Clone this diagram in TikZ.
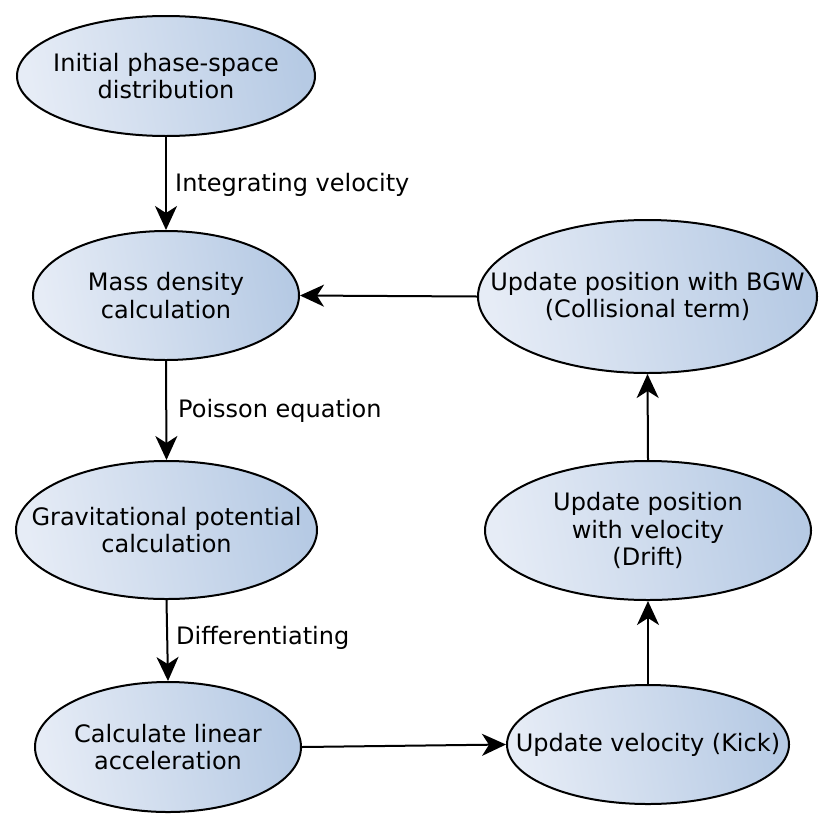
\documentclass[tikz,border=0pt]{standalone}
\usepackage{fontspec}
\setmainfont{DejaVu Sans}
\usetikzlibrary{arrows.meta,shapes.geometric}
\definecolor{gl}{RGB}{230,236,246}
\definecolor{gr}{RGB}{182,202,228}
\tikzset{
  ell/.style={ellipse, draw=black, line width=2pt, inner sep=0pt,
    left color=gl, right color=gr, shading angle=100},
  txt/.style={align=center, inner sep=0pt, font=\fontsize{24}{27.5}\selectfont},
  conn/.style={line width=2pt, -{Stealth[length=24pt,width=22pt,inset=7pt]}},
  lab/.style={font=\fontsize{24}{27.5}\selectfont, anchor=west, inner sep=0pt}
}
\begin{document}
\begin{tikzpicture}[x=1pt,y=-1pt]
\useasboundingbox (0,0) rectangle (834,830);
\node[ell, minimum width=298pt, minimum height=120pt] (init) at (166,76) {};
\node[txt] (init-t) at (init.center) {Initial phase-space\\distribution};
\node[ell, minimum width=266pt, minimum height=129pt] (mass) at (166,295.5) {};
\node[txt] (mass-t) at (mass.center) {Mass density\\calculation};
\node[ell, minimum width=301pt, minimum height=138pt] (grav) at (166.5,530) {};
\node[txt] (grav-t) at (grav.center) {Gravitational potential\\calculation};
\node[ell, minimum width=266pt, minimum height=130pt] (acc) at (168,747) {};
\node[txt] (acc-t) at (acc.center) {Calculate linear\\acceleration};
\node[ell, minimum width=282pt, minimum height=119pt] (kick) at (648,744.5) {};
\node[txt] (kick-t) at (kick.center) {Update velocity (Kick)};
\node[ell, minimum width=326pt, minimum height=139pt] (drift) at (648,530.5) {};
\node[txt] (drift-t) at (drift.center) {Update position\\with velocity\\(Drift)};
\node[ell, minimum width=339pt, minimum height=153pt] (bgw) at (647.5,296.5) {};
\node[txt] (bgw-t) at (bgw.center) {Update position with BGW\\(Collisional term)};

\draw[conn] (init.south) -- (mass.north);
\draw[conn] (mass.south) -- (grav.north);
\draw[conn] (grav.south) -- (acc.north);
\draw[conn] (acc.east) -- (kick.west);
\draw[conn] (kick.north) -- (drift.south);
\draw[conn] (drift.north) -- (bgw.south);
\draw[conn] (bgw.west) -- (mass.east);

\node[lab] (l1) at (175,185) {Integrating velocity};
\node[lab] (l2) at (178,411) {Poisson equation};
\node[lab] (l3) at (176,638) {Differentiating};
\end{tikzpicture}
\end{document}
